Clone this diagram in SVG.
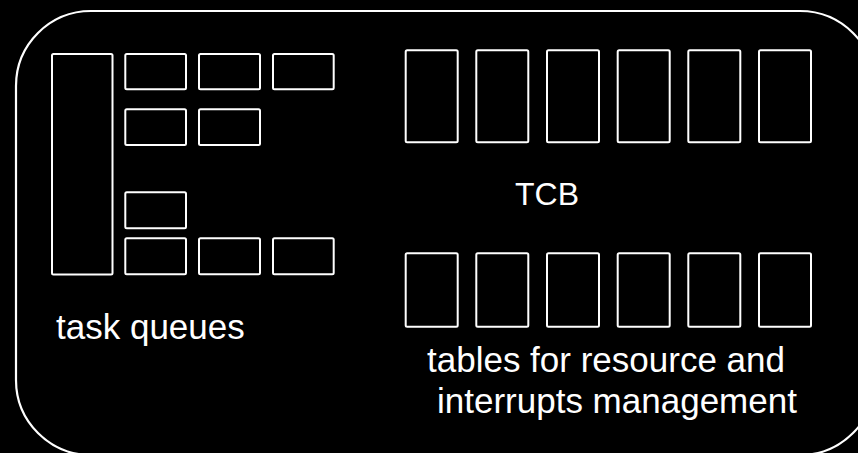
<svg xmlns="http://www.w3.org/2000/svg" width="858" height="453" viewBox="0 0 858 453">
  <style>
    .frame { fill: none; stroke: #ffffff; stroke-width: 2.2; }
    .cell { fill: #000000; stroke: #ffffff; stroke-width: 2; }
    .label { fill: #ffffff; font-family: "Liberation Sans", Arial, sans-serif; font-size: 35px; }
  </style>
  <rect x="0" y="0" width="858" height="453" fill="#000000"/>

  <!-- outer rounded container, extends past the right and bottom edges -->
  <g id="container">
    <rect class="frame" x="16" y="11" width="859" height="444" rx="75" ry="75"/>
  </g>

  <!-- task queues block -->
  <g id="task-queues">
    <rect class="cell" x="52" y="54" width="60.5" height="220.5" rx="1.5"/>
    <rect class="cell" x="125.3" y="54" width="60.7" height="35.3" rx="1.5"/>
    <rect class="cell" x="199" y="54" width="61" height="35.3" rx="1.5"/>
    <rect class="cell" x="273" y="54" width="60.7" height="35.3" rx="1.5"/>
    <rect class="cell" x="125.3" y="109.3" width="60.7" height="35.7" rx="1.5"/>
    <rect class="cell" x="199" y="109.3" width="61" height="35.7" rx="1.5"/>
    <rect class="cell" x="125.3" y="192.3" width="60.7" height="36" rx="1.5"/>
    <rect class="cell" x="125.3" y="238.3" width="60.7" height="36" rx="1.5"/>
    <rect class="cell" x="199" y="238.3" width="61" height="36" rx="1.5"/>
    <rect class="cell" x="273" y="238.3" width="60.7" height="36" rx="1.5"/>
    <text class="label" x="56" y="339">task queues</text>
  </g>

  <!-- task control blocks -->
  <g id="tcb">
    <rect class="cell" x="405.7" y="50.3" width="52" height="92" rx="1.5"/>
    <rect class="cell" x="476.3" y="50.3" width="52" height="92" rx="1.5"/>
    <rect class="cell" x="547" y="50.3" width="52" height="92" rx="1.5"/>
    <rect class="cell" x="617.7" y="50.3" width="52" height="92" rx="1.5"/>
    <rect class="cell" x="688.3" y="50.3" width="52" height="92" rx="1.5"/>
    <rect class="cell" x="759" y="50.3" width="52" height="92" rx="1.5"/>
    <text class="label" x="515" y="205" style="font-size:32px">TCB</text>
  </g>

  <!-- resource and interrupt tables -->
  <g id="tables">
    <rect class="cell" x="405.7" y="253.3" width="52" height="73.5" rx="1.5"/>
    <rect class="cell" x="476.3" y="253.3" width="52" height="73.5" rx="1.5"/>
    <rect class="cell" x="547" y="253.3" width="52" height="73.5" rx="1.5"/>
    <rect class="cell" x="617.7" y="253.3" width="52" height="73.5" rx="1.5"/>
    <rect class="cell" x="688.3" y="253.3" width="52" height="73.5" rx="1.5"/>
    <rect class="cell" x="759" y="253.3" width="52" height="73.5" rx="1.5"/>
    <text class="label" x="427" y="372">tables for resource and</text>
    <text class="label" x="437" y="413">interrupts management</text>
  </g>

  <g id="connectors"/>
</svg>
